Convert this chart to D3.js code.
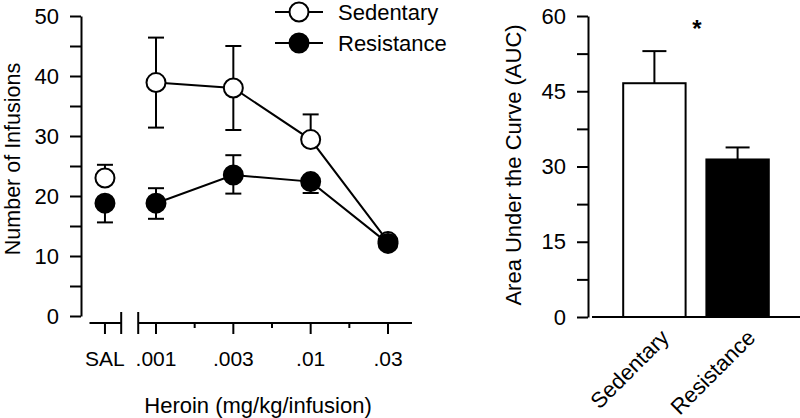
<!DOCTYPE html>
<html>
<head>
<meta charset="utf-8">
<script src="https://cdn.jsdelivr.net/npm/d3@7"></script>
<style>
  html, body { margin: 0; padding: 0; background: #fff; }
  svg { display: block; }
  text { font-family: "Liberation Sans", Arial, sans-serif; fill: #000; }
</style>
</head>
<body>
<svg id="chart" width="800" height="418"></svg>
<script>
// ---------- Data ----------
const doseLabels = ["SAL", ".001", ".003", ".01", ".03"];
const sedentaryMean = [23.0, 38.9, 38.0, 29.4, 12.4];
const sedentaryErrUp = [2.2, 7.5, 7.0, 4.2, 0];
const sedentaryErrDown = [0, 7.5, 7.0, 0, 0];
const resistanceMean = [18.8, 18.8, 23.5, 22.4, 12.1];
const resistanceErrUp = [0, 2.5, 3.3, 0, 0];
const resistanceErrDown = [3.2, 2.6, 3.1, 1.9, 0];
const leftYTicks = [0, 10, 20, 30, 40, 50];
const leftYMinor = [5, 15, 25, 35, 45];

const aucGroups = ["Sedentary", "Resistance"];
const aucMean = [46.6, 31.4];
const aucErr = [6.4, 2.4];
const rightYTicks = [0, 15, 30, 45, 60];
const rightYMinor = [7.5, 22.5, 37.5, 52.5];

// ---------- Setup ----------
const svg = d3.select("#chart");
const FONT_TICK = 22, FONT_TITLE = 22;
const SW = 2;

// ---------- Left panel ----------
const yL = d3.scaleLinear().domain([0, 50]).range([316, 16]);
// heroin dose index scale (0 = .001 ... 3 = .03); SAL sits before the axis break
const xL = d3.scaleLinear().domain([0, 3]).range([156, 388]);
const SAL_POS = -0.66;
const xPos = i => i === 0 ? xL(SAL_POS) : xL(i - 1);
const axisY = 323;

const gL = svg.append("g");

// y axis
const yAxisL = d3.axisLeft(yL).tickValues(leftYTicks.concat(leftYMinor))
  .tickSize(11).tickSizeOuter(0)
  .tickFormat(d => leftYTicks.includes(d) ? d : "");
const gYL = gL.append("g").attr("transform", "translate(81,0)").call(yAxisL);
gYL.select(".domain").attr("stroke-width", SW);
gYL.selectAll(".tick line").attr("stroke-width", SW);
gYL.selectAll(".tick text").attr("font-size", FONT_TICK).attr("x", -22)
  .attr("font-family", "Liberation Sans, Arial, sans-serif");

// x axis (broken)
const xAx = gL.append("g").attr("stroke", "#000").attr("stroke-width", SW);
xAx.append("line").attr("x1", xL(-0.86)).attr("x2", xL(-0.45)).attr("y1", axisY).attr("y2", axisY);
xAx.append("line").attr("x1", xL(-0.23)).attr("x2", xL(3.31)).attr("y1", axisY).attr("y2", axisY);
[xL(-0.45), xL(-0.23)].forEach(bx => {
  xAx.append("line").attr("x1", bx).attr("x2", bx).attr("y1", axisY - 11).attr("y2", axisY + 11);
});
doseLabels.forEach((lab, i) => {
  const x = xPos(i);
  xAx.append("line").attr("x1", x).attr("x2", x).attr("y1", axisY).attr("y2", axisY + 11);
  gL.append("text").attr("x", x).attr("y", 366).attr("text-anchor", "middle")
    .attr("font-size", FONT_TICK - 1).text(lab);
});
[0.5, 1.5, 2.5].forEach(m => {
  xAx.append("line").attr("x1", xL(m)).attr("x2", xL(m)).attr("y1", axisY).attr("y2", axisY + 5);
});

// axis titles
gL.append("text").attr("x", 258).attr("y", 413).attr("text-anchor", "middle")
  .attr("font-size", FONT_TITLE).text("Heroin (mg/kg/infusion)");
gL.append("text").attr("transform", "translate(20,159) rotate(-90)").attr("text-anchor", "middle")
  .attr("font-size", 21.5).text("Number of Infusions");

// series
const series = [
  { name: "Sedentary", mean: sedentaryMean, up: sedentaryErrUp, down: sedentaryErrDown, fill: "#fff" },
  { name: "Resistance", mean: resistanceMean, up: resistanceErrUp, down: resistanceErrDown, fill: "#000" }
];
const R = 9.5, CAP = 8;
const line = d3.line().x(d => xPos(d.i)).y(d => yL(d.v));

series.forEach(s => {
  const pts = s.mean.map((v, i) => ({ i, v })).filter(d => d.i > 0);
  gL.append("path").datum(pts).attr("d", line).attr("fill", "none")
    .attr("stroke", "#000").attr("stroke-width", SW);
});
series.forEach(s => {
  const g = gL.append("g").attr("stroke", "#000").attr("stroke-width", SW);
  s.mean.forEach((v, i) => {
    const x = xPos(i);
    if (s.up[i] > 0) {
      g.append("line").attr("x1", x).attr("x2", x).attr("y1", yL(v)).attr("y2", yL(v + s.up[i]));
      g.append("line").attr("x1", x - CAP).attr("x2", x + CAP).attr("y1", yL(v + s.up[i])).attr("y2", yL(v + s.up[i]));
    }
    if (s.down[i] > 0) {
      g.append("line").attr("x1", x).attr("x2", x).attr("y1", yL(v)).attr("y2", yL(v - s.down[i]));
      g.append("line").attr("x1", x - CAP).attr("x2", x + CAP).attr("y1", yL(v - s.down[i])).attr("y2", yL(v - s.down[i]));
    }
  });
});
series.forEach(s => {
  gL.append("g").selectAll("circle").data(s.mean).join("circle")
    .attr("cx", (v, i) => xPos(i)).attr("cy", v => yL(v)).attr("r", R)
    .attr("fill", s.fill).attr("stroke", "#000").attr("stroke-width", SW);
});

// legend
series.forEach((s, k) => {
  const ly = 12 + k * 31;
  const lg = gL.append("g");
  lg.append("line").attr("x1", 275).attr("x2", 323).attr("y1", ly).attr("y2", ly)
    .attr("stroke", "#000").attr("stroke-width", SW);
  lg.append("circle").attr("cx", 299).attr("cy", ly).attr("r", R)
    .attr("fill", s.fill).attr("stroke", "#000").attr("stroke-width", SW);
  lg.append("text").attr("x", 338).attr("y", ly + 7.5).attr("font-size", FONT_TITLE).text(s.name);
});

// ---------- Right panel ----------
const yR = d3.scaleLinear().domain([0, 60]).range([317, 16]);
const xR = d3.scaleBand().domain(aucGroups).range([592, 800]).paddingInner(0.25).paddingOuter(0.375);
const gR = svg.append("g");

const yAxisR = d3.axisLeft(yR).tickValues(rightYTicks.concat(rightYMinor))
  .tickSize(11).tickSizeOuter(0)
  .tickFormat(d => rightYTicks.includes(d) ? d : "");
const gYR = gR.append("g").attr("transform", "translate(588,0)").call(yAxisR);
gYR.select(".domain").attr("stroke-width", SW);
gYR.selectAll(".tick line").attr("stroke-width", SW);
gYR.selectAll(".tick text").attr("font-size", FONT_TICK).attr("x", -22)
  .attr("font-family", "Liberation Sans, Arial, sans-serif");

// bars
const barFill = ["#fff", "#000"];
aucGroups.forEach((g, i) => {
  const cx = xR(g) + xR.bandwidth() / 2;
  const top = yR(aucMean[i] + aucErr[i]);
  gR.append("line").attr("x1", cx).attr("x2", cx).attr("y1", yR(aucMean[i])).attr("y2", top)
    .attr("stroke", "#000").attr("stroke-width", SW);
  gR.append("line").attr("x1", cx - 12).attr("x2", cx + 12).attr("y1", top).attr("y2", top)
    .attr("stroke", "#000").attr("stroke-width", SW);
  gR.append("rect").attr("x", xR(g)).attr("y", yR(aucMean[i]))
    .attr("width", xR.bandwidth()).attr("height", yR(0) - yR(aucMean[i]))
    .attr("fill", barFill[i]).attr("stroke", "#000").attr("stroke-width", SW);
  gR.append("text").attr("text-anchor", "end").attr("font-size", FONT_TITLE)
    .attr("transform", `translate(${cx + 16 + i * 3},${339}) rotate(-45)`).text(g);
});
// baseline
gR.append("line").attr("x1", 592).attr("x2", 800).attr("y1", yR(0)).attr("y2", yR(0))
  .attr("stroke", "#000").attr("stroke-width", SW);

// significance
gR.append("text").attr("x", 697).attr("y", 37).attr("text-anchor", "middle")
  .attr("font-size", 24).attr("font-weight", "bold").text("*");

gR.append("text").attr("transform", "translate(521,165) rotate(-90)").attr("text-anchor", "middle")
  .attr("font-size", FONT_TITLE).text("Area Under the Curve (AUC)");
</script>
</body>
</html>
